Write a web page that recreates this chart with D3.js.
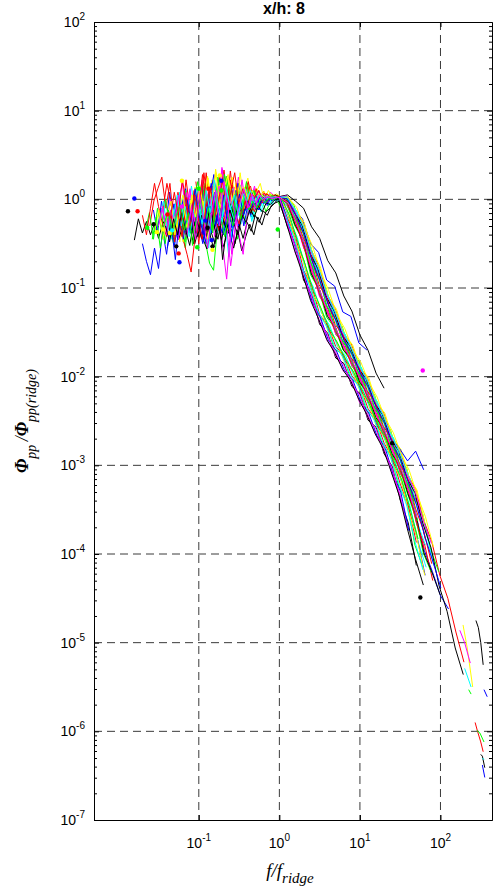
<!DOCTYPE html>
<html>
<head>
<meta charset="utf-8">
<script src="https://cdn.jsdelivr.net/npm/d3@7"></script>
<style>
  body { margin: 0; background: #fff; }
  svg { display: block; }
</style>
</head>
<body>
<svg id="chart" width="499" height="894"></svg>
<script>
// ---- axis ranges and ticks ----
const xDomain = [0.005, 436];
const yDomain = [1e-7, 1e2];
const xTickExp = [-1, 0, 1, 2];
const yTickExp = [-7, -6, -5, -4, -3, -2, -1, 0, 1, 2];

// ---- frequency grids, log10(f) ----
// fine grid below the ridge frequency (each low-band series ends at 10^0)
const fineGrid = [-1.80,-1.75,-1.70,-1.65,-1.60,-1.55,-1.50,-1.45,-1.40,-1.35,-1.30,-1.25,-1.20,-1.15,-1.10,-1.05,-1.00,-0.95,-0.90,-0.85,-0.80,-0.75,-0.70,-0.65,-0.60,-0.55,-0.50,-0.45,-0.40,-0.35,-0.30,-0.25,-0.20,-0.15,-0.10,-0.05,0.00];
// coarse grid above the ridge frequency (each roll-off series starts at 10^0.1)
const coarseGrid = [0.10,0.20,0.30,0.40,0.50,0.60,0.70,0.80,0.90,1.00,1.10,1.20,1.30,1.40,1.50,1.60,1.70,1.80,1.90,2.00,2.10,2.20,2.30];

// ---- one entry per spectrum ----
const seriesColor = ["b","r","g","c","m","y","k","b","r","g","c","m","y","k","b","r","g","c","m","y","k","b","r","g","c","m","y","k",
                     "b","r","g","c","m","y","k","b","r","g","c","m"];
const ridgeScale = [1.00,1.02,1.04,0.98,1.02,0.97,1.00,1.03,0.99,1.05,0.95,1.01,0.98,1.00,1.02,0.97,1.03,0.96,1.01,0.99,1.04,0.98,1.00,1.02,0.97,1.03,0.99,1.01,
                    0.98,1.02,0.96,1.04,1.00,0.97,1.03,0.99,1.01,0.95,1.02,0.98];

// log10(Phi_pp / Phi_pp(ridge)) below the ridge, aligned to the end of fineGrid
const spectraLow = [
  [-0.50,-0.70,-0.85,-0.55,-0.78,-0.35,-0.62,-0.25,-0.52,-0.15,-0.45,-0.10,-0.38,0.05,-0.30,-0.50,-0.08,-0.35,0.02,-0.28,-0.05,-0.40,0.00,-0.22,0.05,-0.18,-0.02,-0.20,-0.05,-0.12,0.03,-0.07,0.03,-0.02,0.02],
  [-0.30,-0.02,0.12,0.25,-0.10,0.18,-0.28,0.08,-0.20,0.22,-0.12,-0.38,0.10,-0.18,0.30,-0.10,0.22,-0.25,0.12,-0.15,0.32,-0.05,0.15,-0.20,0.08,0.15,-0.06,0.10,-0.02,0.07,0.02,0.05,0.03],
  [-0.35,-0.10,-0.50,-0.15,-0.42,0.02,-0.30,-0.55,-0.10,-0.38,0.05,-0.28,-0.48,-0.72,-0.80,-0.30,-0.05,-0.35,0.02,-0.25,-0.45,-0.08,-0.28,0.00,-0.20,-0.08,0.00,-0.14,-0.04,0.01,-0.03],
  [-0.25,-0.45,-0.05,-0.35,0.05,-0.25,0.15,-0.18,-0.40,0.05,-0.22,0.18,-0.12,-0.32,0.12,-0.15,-0.42,-0.05,0.10,-0.18,-0.02,-0.25,0.06,-0.10,0.00,0.06,-0.06,0.03,0.01],
  [-0.25,0.02,-0.38,-0.10,0.12,-0.30,-0.05,0.22,-0.20,0.05,-0.32,0.10,0.34,-0.12,0.20,-0.08,0.25,-0.15,0.10,-0.02,0.15,-0.06,0.08,0.00,0.08,0.03,0.02],
  [-0.40,-0.15,-0.48,-0.10,-0.32,0.05,-0.28,-0.05,0.15,-0.22,0.22,-0.12,-0.28,0.08,-0.15,0.25,-0.08,0.30,-0.05,0.14,-0.15,0.08,0.18,-0.02,0.10,0.03,0.06,0.03],
  [-0.46,-0.22,-0.38,-0.25,-0.40,-0.27,-0.44,-0.28,-0.20,-0.38,-0.26,-0.45,-0.30,-0.42,-0.22,-0.50,-0.32,-0.44,-0.56,-0.36,-0.50,-0.30,-0.54,-0.40,-0.33,-0.50,-0.28,-0.44,-0.26,-0.36,-0.18,-0.26,-0.13,-0.18,-0.07,-0.04,-0.02],
  [-0.12,-0.38,-0.02,-0.32,0.08,-0.25,-0.45,-0.08,0.12,-0.22,0.00,-0.35,0.18,-0.18,0.02,0.28,-0.15,0.10,-0.30,0.12,-0.08,0.18,-0.14,0.05,-0.08,0.08,0.00,0.05,-0.02,0.04,0.04,0.03],
  [-0.12,0.18,-0.05,-0.32,-0.08,-0.45,-0.62,-0.82,-0.42,-0.15,0.12,-0.20,0.15,-0.10,0.25,-0.08,-0.28,0.10,-0.15,0.12,-0.05,0.18,-0.08,0.06,-0.03,0.09,0.01,0.04,0.02,0.03],
  [-0.28,-0.48,-0.10,-0.38,0.02,-0.25,0.18,-0.15,-0.35,0.08,-0.20,0.22,-0.05,-0.25,0.10,-0.14,0.12,-0.08,0.04,-0.10,0.05,-0.03,0.03,0.00,0.02],
  [-0.10,-0.40,0.02,-0.28,-0.55,-0.12,-0.38,0.08,-0.22,-0.65,-0.28,-0.02,-0.28,0.08,-0.12,-0.22,0.00,-0.14,0.02,-0.07,0.02,-0.02,0.01],
  [-0.02,0.18,-0.20,0.10,-0.32,-0.05,0.20,-0.25,0.00,-0.42,-0.10,-0.52,-0.90,-0.32,-0.05,0.12,-0.18,0.05,-0.10,0.12,-0.05,0.06,-0.02,0.04,0.01,0.02],
  [-0.25,0.00,-0.40,0.15,-0.15,0.26,-0.10,0.34,0.05,-0.15,0.24,-0.08,0.16,-0.18,0.08,0.24,-0.04,0.12,0.02,0.09,0.01,0.05,0.04,0.03],
  [-0.30,-0.05,-0.38,0.00,-0.25,0.06,-0.20,-0.35,-0.05,-0.22,0.04,-0.15,-0.04,0.05,-0.08,0.03,-0.03,0.05,0.02,0.05,0.03],
  [-0.32,-0.05,-0.45,-0.20,0.02,-0.38,-0.12,0.10,-0.28,-0.50,-0.10,0.08,-0.22,-0.38,-0.05,-0.25,0.05,-0.30,-0.08,0.02,-0.18,-0.04,-0.12,0.01,-0.05,0.02,-0.01,0.02],
  [0.20,-0.15,0.30,-0.08,0.15,-0.25,0.08,0.33,-0.10,0.16,-0.18,0.10,-0.06,0.20,-0.02,0.12,-0.05,0.07,0.01,0.05,0.03,0.02],
  [-0.35,-0.15,-0.45,-0.10,-0.35,0.00,-0.30,-0.50,-0.08,-0.38,0.10,-0.22,-0.02,0.20,-0.15,-0.32,0.12,-0.15,0.25,0.00,-0.20,0.14,-0.10,0.08,-0.22,0.04,-0.08,0.10,-0.03,0.04,0.00,0.04,0.02,0.03],
  [-0.18,0.10,-0.12,0.20,-0.05,-0.28,0.12,-0.15,0.16,-0.08,0.08,-0.15,0.03,0.07,-0.04,0.05,0.01,0.03,0.02],
  [-0.08,-0.35,0.00,-0.25,-0.45,-0.10,0.08,-0.28,-0.02,-0.38,-0.18,0.10,-0.22,-0.02,0.15,-0.15,-0.30,-0.75,-0.40,-0.05,0.08,-0.12,0.04,-0.06,0.05,-0.02,0.03,0.00,0.02,0.02],
  [-0.40,-0.18,-0.48,-0.12,-0.36,0.02,-0.30,-0.08,-0.45,-0.02,-0.25,0.08,-0.18,-0.35,0.00,-0.18,0.10,-0.12,0.00,-0.15,0.06,-0.06,0.03,-0.02,0.03,0.01,0.02],
  [-0.28,-0.50,-0.25,-0.44,-0.20,-0.38,-0.55,-0.28,-0.46,-0.22,-0.40,-0.55,-0.35,-0.58,-0.42,-0.28,-0.40,-0.20,-0.29,-0.14,-0.10,-0.05,0.00],
  [-0.25,0.10,-0.15,-0.38,0.00,0.16,-0.20,0.02,-0.32,0.10,-0.14,0.05,-0.10,0.08,-0.06,0.04,-0.02,0.04,0.02,0.03,0.02],
  [-0.18,-0.40,-0.10,0.18,-0.08,-0.28,-0.42,-0.12,-0.48,-0.05,-0.30,0.02,-0.35,-0.10,-0.50,-0.02,-0.25,0.12,-0.20,-0.35,0.00,-0.22,0.14,-0.12,-0.28,-0.02,0.05,-0.15,-0.03,-0.09,0.02,-0.03,0.03,0.01,0.02],
  [-0.15,0.18,-0.08,0.26,0.00,-0.20,0.12,-0.10,0.20,-0.04,0.08,-0.06,0.05,0.02,0.05,0.03,0.02],
  [-0.25,-0.02,-0.38,-0.08,-0.30,0.08,-0.22,-0.42,-0.05,-0.28,0.02,-0.36,-0.10,0.10,-0.25,-0.05,-0.35,-0.12,0.05,-0.25,-0.08,0.05,-0.15,-0.02,-0.10,0.02,-0.04,0.02,0.00,0.02,0.01],
  [-0.15,0.12,-0.22,0.05,-0.12,0.36,0.05,-0.20,0.14,-0.08,0.22,-0.10,0.08,-0.03,0.09,0.02,0.04,0.01,0.03,0.02],
  [-0.35,-0.12,-0.45,-0.18,-0.02,-0.40,-0.12,0.05,-0.32,-0.08,0.14,-0.22,-0.02,-0.38,0.08,-0.15,0.16,-0.08,-0.25,0.10,-0.10,0.18,-0.04,0.08,-0.12,0.03,0.06,-0.02,0.04,0.02,0.03,0.02],
  [-0.20,-0.40,-0.05,-0.30,0.00,-0.25,-0.42,-0.08,-0.32,-0.12,-0.68,-0.32,-0.05,-0.25,0.00,-0.20,-0.06,-0.16,0.01,-0.07,0.02,-0.02,0.03,0.02,0.03],
  [-0.55,-0.30,-0.68,-0.22,-0.45,-0.10,-0.35,0.05,-0.28,-0.48,-0.15,0.08,-0.30,-0.05,-0.40,-0.12,0.10,-0.22,-0.02,-0.30,-0.06,0.08,-0.12,0.02,-0.05,0.04,-0.02,0.02,0.02],
  [-0.15,-0.42,-0.08,-0.30,0.10,-0.20,-0.45,-0.05,0.15,-0.25,0.05,-0.32,-0.10,0.22,-0.12,0.05,-0.20,0.10,-0.05,-0.14,0.05,-0.04,0.05,0.00,0.03,0.02],
  [0.05,-0.25,0.15,-0.12,-0.35,0.08,-0.18,0.28,0.02,-0.20,0.10,-0.12,0.06,-0.05,0.10,0.00,0.06,-0.02,0.04,0.02,0.03,0.02],
  [-0.20,0.05,-0.30,-0.08,-0.42,-0.15,0.12,-0.20,0.00,-0.35,0.08,-0.12,-0.28,0.15,-0.06,-0.22,0.05,-0.10,0.12,-0.04,0.04,-0.06,0.05,0.00,0.03,0.01,0.02],
  [-0.30,-0.08,-0.40,-0.12,-0.28,0.05,-0.20,-0.42,-0.05,-0.25,0.10,-0.15,-0.35,0.02,-0.18,0.15,-0.10,-0.28,0.05,-0.16,-0.40,-0.62,-0.20,0.02,-0.10,0.05,-0.03,0.03,0.00,0.02,0.02],
  [-0.10,-0.32,0.05,-0.20,0.15,-0.12,0.24,-0.05,0.30,-0.10,0.12,0.28,-0.02,0.18,-0.08,0.14,0.00,0.10,-0.03,0.07,0.02,0.05,0.03,0.03,0.02],
  [-0.30,-0.48,-0.22,-0.40,-0.15,-0.35,-0.52,-0.25,-0.42,-0.18,-0.36,-0.08,-0.30,-0.45,-0.20,-0.32,-0.12,-0.28,-0.40,-0.18,-0.26,-0.10,-0.20,-0.08,-0.14,-0.04,-0.06,-0.01,0.01],
  [0.00,-0.25,0.12,-0.18,-0.40,-0.08,0.18,-0.15,-0.30,0.05,-0.22,-0.48,-0.12,0.06,-0.18,-0.02,-0.10,0.05,-0.06,0.02,-0.02,0.03,0.02,0.03],
  [-0.22,0.08,-0.18,0.22,-0.05,-0.30,0.05,-0.15,0.28,-0.08,0.12,-0.22,0.00,0.20,-0.12,0.08,0.30,-0.05,0.12,-0.10,0.08,0.02,0.10,-0.02,0.06,0.02,0.04,0.03],
  [-0.45,-0.20,-0.55,-0.28,-0.12,-0.40,-0.18,-0.05,-0.35,-0.15,-0.52,-0.22,0.00,-0.30,-0.10,-0.38,0.05,-0.20,-0.42,-0.15,-0.30,-0.05,-0.22,0.05,-0.12,-0.02,-0.10,0.02,-0.04,0.01,-0.01,0.02,0.02],
  [-0.05,-0.28,0.10,-0.15,0.22,-0.08,-0.25,0.12,-0.12,0.05,-0.18,0.08,-0.02,0.10,-0.04,0.05,0.00,0.04,0.02,0.03,0.02],
  [-0.35,-0.10,-0.45,0.05,-0.22,-0.55,-0.15,0.10,-0.30,0.20,-0.05,-0.62,-0.25,-0.05,0.12,-0.10,0.06,-0.04,0.05,0.00,0.03,0.01,0.02,0.02]
];

// log10(Phi_pp / Phi_pp(ridge)) above the ridge, aligned to the start of coarseGrid
const spectraHigh = [
  [-0.03,-0.27,-0.50,-0.84,-1.03,-1.31,-1.46,-1.69,-1.82,-2.05,-2.20,-2.45,-2.60,-2.86,-3.02,-3.31,-3.58,-3.96,-4.20,-4.47,-4.62],
  [0.04,-0.11,-0.26,-0.56,-0.76,-1.07,-1.23,-1.50,-1.63,-1.88,-2.01,-2.27,-2.40,-2.67,-2.82,-3.10,-3.27,-3.62,-3.86,-4.24,-4.50,-4.88,-5.22],
  [-0.20,-0.42,-0.79,-0.97,-1.31,-1.40,-1.69,-1.74,-2.02,-2.08,-2.39,-2.47,-2.78,-2.89,-3.24,-3.42,-3.90,-4.15],
  [-0.08,-0.23,-0.54,-0.77,-1.10,-1.23,-1.53,-1.61,-1.89,-1.97,-2.27,-2.37,-2.67,-2.78,-3.09,-3.23,-3.66],
  [0.02,-0.21,-0.36,-0.72,-0.89,-1.21,-1.34,-1.62,-1.72,-1.99,-2.09,-2.38,-2.49,-2.79,-2.91,-3.23],
  [-0.04,-0.13,-0.44,-0.62,-0.97,-1.11,-1.42,-1.52,-1.80,-1.89,-2.17,-2.28,-2.57,-2.69,-2.90],
  [-0.31,-0.51,-0.91,-1.07,-1.41,-1.51,-1.79,-1.85,-2.11,-2.19,-2.49,-2.57,-2.87,-3.01,-3.39,-3.65,-4.13],
  [0.03,-0.12,-0.22,-0.50,-0.60,-0.91,-0.98,-1.27,-1.32,-1.62,-1.70],
  [-0.06,-0.22,-0.55,-0.75,-1.10,-1.24,-1.53,-1.61,-1.89,-1.97,-2.28,-2.37,-2.68,-2.78,-3.10,-3.23,-3.66,-3.90,-4.30],
  [0.00,-0.06,-0.35,-0.50,-0.85,-1.00,-1.33,-1.43,-1.73,-1.81,-2.10,-2.20,-2.50,-2.60,-2.91,-3.03,-3.37,-3.55,-3.95,-4.20],
  [-0.22,-0.43,-0.80,-0.99,-1.28,-1.42,-1.66,-1.76,-1.99,-2.10,-2.36,-2.49,-2.75,-2.91,-3.21,-3.46,-3.86,-4.15],
  [-0.08,-0.23,-0.53,-0.76,-1.09,-1.25,-1.51,-1.63,-1.87,-1.99,-2.25,-2.39,-2.65,-2.80,-3.07,-3.25,-3.63,-3.93],
  [0.03,-0.14,-0.26,-0.60,-0.76,-1.10,-1.24,-1.53,-1.64,-1.91,-2.01,-2.30,-2.41,-2.70,-2.82,-3.13,-3.28,-3.66],
  [0.05,-0.02,-0.10,-0.31,-0.44,-0.69,-0.83,-1.09,-1.26,-1.53,-1.70,-1.96,-2.13],
  [0.01,-0.17,-0.32,-0.64,-0.83,-1.12,-1.29,-1.54,-1.69,-1.92,-2.07,-2.31,-2.45,-2.70,-2.81,-2.95,-2.84,-3.05],
  [0.01,-0.20,-0.38,-0.72,-0.89,-1.21,-1.34,-1.62,-1.72,-1.99,-2.09,-2.38,-2.49,-2.79,-2.91,-3.23,-3.42,-3.84],
  [-0.04,-0.29,-0.46,-0.85,-1.01,-1.33,-1.45,-1.69,-1.82,-2.06,-2.18,-2.47,-2.59,-2.87,-3.02,-3.31,-3.58,-3.99,-4.21],
  [-0.04,-0.13,-0.44,-0.64,-0.98,-1.12,-1.43,-1.52,-1.81,-1.89,-2.18,-2.28,-2.58,-2.69,-3.00,-3.14,-3.51,-3.74,-4.13],
  [-0.25,-0.60,-0.81,-1.15,-1.31,-1.60,-1.72,-1.94,-2.03,-2.29,-2.42,-2.66,-2.80,-3.09,-3.32,-3.72],
  [-0.02,-0.28,-0.48,-0.83,-1.03,-1.31,-1.46,-1.70,-1.81,-2.07,-2.18,-2.46,-2.60,-2.86,-3.00,-3.33],
  [0.03,-0.15,-0.29,-0.61,-0.79,-1.10,-1.26,-1.54,-1.66,-1.91,-2.03,-2.30,-2.43,-2.70,-2.84,-3.14,-3.31,-3.66,-3.93,-4.36,-4.65,-5.06,-5.36],
  [-0.16,-0.50,-0.70,-1.07,-1.22,-1.48,-1.60,-1.82,-1.93,-2.16,-2.30,-2.55,-2.69,-2.97,-3.15,-3.51,-3.81,-4.24],
  [-0.21,-0.41,-0.80,-0.97,-1.30,-1.42,-1.66,-1.76,-1.99,-2.10,-2.36,-2.49,-2.75,-2.91,-3.21,-3.45,-3.87],
  [0.02,-0.21,-0.36,-0.71,-0.88,-1.21,-1.33,-1.62,-1.71,-1.99,-2.08,-2.38,-2.48,-2.79,-2.90,-3.23,-3.42],
  [-0.07,-0.21,-0.55,-0.75,-1.10,-1.23,-1.53,-1.61,-1.89,-1.97,-2.27,-2.37,-2.67,-2.78,-3.09,-3.23,-3.65,-3.90],
  [0.04,-0.13,-0.27,-0.58,-0.77,-1.08,-1.25,-1.51,-1.65,-1.89,-2.02,-2.28,-2.42,-2.68,-2.83,-3.11,-3.29,-3.63,-3.88],
  [-0.15,-0.49,-0.71,-1.06,-1.21,-1.49,-1.59,-1.83,-1.92,-2.17,-2.29,-2.56,-2.68,-2.98,-3.14,-3.52,-3.80,-4.24],
  [-0.02,-0.29,-0.46,-0.84,-1.01,-1.32,-1.44,-1.70,-1.80,-2.06,-2.18,-2.46,-2.58,-2.87,-3.00,-3.32,-3.56,-3.99,-4.21,-4.46],
  [-0.26,-0.58,-0.83,-1.16,-1.33,-1.59,-1.71,-1.93,-2.03,-2.28,-2.41,-2.66,-2.79,-3.09,-3.31,-3.74],
  [-0.02,-0.15,-0.42,-0.63,-0.96,-1.12,-1.41,-1.53,-1.79,-1.90,-2.16,-2.29,-2.56,-2.70,-2.98,-3.14,-3.49,-3.74,-4.11],
  [-0.06,-0.25,-0.52,-0.78,-1.08,-1.25,-1.51,-1.63,-1.87,-1.99,-2.25,-2.39,-2.65,-2.80,-3.07,-3.25,-3.63],
  [-0.19,-0.44,-0.77,-1.00,-1.27,-1.43,-1.65,-1.77,-1.98,-2.11,-2.35,-2.50,-2.74,-2.92,-3.20,-3.46,-3.86,-4.18],
  [-0.29,-0.53,-0.88,-1.09,-1.39,-1.53,-1.77,-1.87,-2.09,-2.21,-2.47,-2.59,-2.85,-3.03,-3.37],
  [0.02,-0.09,-0.32,-0.53,-0.82,-1.03,-1.30,-1.46,-1.70,-1.84,-2.07,-2.23,-2.47,-2.63,-2.88,-3.06,-3.34,-3.58,-3.92],
  [-0.27,-0.57,-0.84,-1.14,-1.35,-1.58,-1.73,-1.92,-2.05,-2.26,-2.43,-2.64,-2.81,-3.07,-3.34,-3.71,-4.05,-4.35],
  [0.00,-0.18,-0.39,-0.69,-0.92,-1.18,-1.37,-1.59,-1.75,-1.96,-2.12,-2.35,-2.52,-2.76,-2.94,-3.20,-3.45,-3.80,-4.08,-4.38],
  [-0.05,-0.24,-0.51,-0.79,-1.06,-1.27,-1.49,-1.65,-1.85,-2.01,-2.23,-2.41,-2.63,-2.82,-3.05,-3.27,-3.61,-3.94],
  [-0.17,-0.46,-0.74,-1.03,-1.24,-1.46,-1.62,-1.80,-1.95,-2.14,-2.32,-2.53,-2.71,-2.95,-3.17,-3.49,-3.83],
  [0.03,-0.11,-0.29,-0.57,-0.79,-1.07,-1.27,-1.50,-1.67,-1.88,-2.04,-2.27,-2.44,-2.67,-2.85,-3.10],
  [-0.04,-0.26,-0.49,-0.82,-1.04,-1.30,-1.47,-1.68,-1.83,-2.04,-2.21,-2.44,-2.61,-2.85,-3.03,-3.30,-3.59]
];

// isolated pieces of spectra at the highest frequencies: [log10 f, log10 level]
const tailColor = ["r","g","k","b","c","k","y","m","c","g","b"];
const tailSegments = [
  [[2.43,-5.90],[2.46,-6.00],[2.50,-6.12],[2.53,-6.23]],
  [[2.45,-5.99],[2.49,-6.02],[2.54,-6.12]],
  [[2.50,-6.26],[2.52,-6.28],[2.55,-6.41]],
  [[2.52,-6.38],[2.55,-6.52]],
  [[2.52,-6.30],[2.54,-6.32]],
  [[2.44,-4.75],[2.47,-4.83],[2.50,-5.00],[2.53,-5.25]],
  [[2.28,-4.80],[2.33,-5.05],[2.40,-5.50]],
  [[2.24,-4.86],[2.30,-5.00],[2.37,-5.23]],
  [[2.30,-5.29],[2.38,-5.50]],
  [[2.35,-5.53],[2.38,-5.58]],
  [[2.54,-5.53],[2.58,-5.61]]
];

// single-sample points drawn as dots
const dotLogF = [-1.80,-1.88,-1.76,-1.64,-1.56,-1.39,-1.52,-1.44,-1.36,-1.21,-1.21,-1.28,-1.25,-1.24,-1.02,-0.89,-0.92,-1.00,-0.74,-0.72,-0.72,-0.88,-0.83,-0.84,-0.83,-1.33,-0.02,1.75,1.78,1.40];
const dotLogV = [0.01,-0.135,-0.135,-0.32,-0.28,-0.17,-0.37,-0.34,-0.38,-0.08,0.21,-0.53,-0.61,-0.71,-0.54,-0.32,-0.24,0.12,0.27,0.21,0.10,0.12,-0.53,-0.46,-0.57,-0.35,-0.34,-4.49,-1.93,-2.75];
const dotColor = ["b","k","r","g","k","r","y","y","y","m","y","k","r","b","g","k","b","g","y","b","g","r","k","b","y","c","g","k","m","k"];

const palette = { b: "#0000ff", r: "#ff0000", g: "#00ff00", c: "#00ffff", m: "#ff00ff", y: "#ffff00", k: "#000000" };

// ---- layout ----
const plot = { left: 94, right: 492, top: 22, bottom: 820 };

const svg = d3.select("#chart");
const x = d3.scaleLog().domain(xDomain).range([plot.left, plot.right]);
const y = d3.scaleLog().domain(yDomain).range([plot.bottom, plot.top]);

svg.append("defs").append("clipPath").attr("id", "plotClip")
  .append("rect")
  .attr("x", plot.left).attr("y", plot.top)
  .attr("width", plot.right - plot.left).attr("height", plot.bottom - plot.top);

// ---- dashed grid ----
const grid = svg.append("g").attr("stroke", "#3a3a3a").attr("stroke-width", 1)
  .attr("stroke-dasharray", "8,5").attr("fill", "none");
xTickExp.forEach(e => {
  grid.append("line")
    .attr("x1", x(Math.pow(10, e))).attr("x2", x(Math.pow(10, e)))
    .attr("y1", plot.top).attr("y2", plot.bottom);
});
yTickExp.filter(e => e > -7 && e < 2).forEach(e => {
  grid.append("line")
    .attr("x1", plot.left).attr("x2", plot.right)
    .attr("y1", y(Math.pow(10, e))).attr("y2", y(Math.pow(10, e)));
});

// ---- spectra ----
const line = d3.line().x(d => x(d[0])).y(d => y(d[1]));
const spectraG = svg.append("g").attr("clip-path", "url(#plotClip)")
  .attr("fill", "none").attr("stroke-width", 1).attr("stroke-linejoin", "round");

spectraLow.forEach((low, k) => {
  const high = spectraHigh[k];
  const offset = fineGrid.length - low.length;
  const pts = [];
  low.forEach((v, i) => pts.push([Math.pow(10, fineGrid[offset + i]) / ridgeScale[k], Math.pow(10, v)]));
  high.forEach((v, i) => pts.push([Math.pow(10, coarseGrid[i]) / ridgeScale[k], Math.pow(10, v)]));
  spectraG.append("path")
    .attr("stroke", palette[seriesColor[k]])
    .attr("d", line(pts));
});

tailSegments.forEach((seg, k) => {
  spectraG.append("path")
    .attr("stroke", palette[tailColor[k]])
    .attr("d", line(seg.map(p => [Math.pow(10, p[0]), Math.pow(10, p[1])])));
});

dotLogF.forEach((lf, i) => {
  spectraG.append("circle")
    .attr("cx", x(Math.pow(10, lf)))
    .attr("cy", y(Math.pow(10, dotLogV[i])))
    .attr("r", 2.2)
    .attr("fill", palette[dotColor[i]])
    .attr("stroke", "none");
});

// ---- axes (ticks point inward) ----
const majorX = xTickExp.map(e => Math.pow(10, e));
const majorY = yTickExp.map(e => Math.pow(10, e));
const minorY = [];
for (let e = -7; e < 2; e++) for (let m = 2; m <= 9; m++) minorY.push(m * Math.pow(10, e));

function styleAxis(g) {
  g.selectAll("path.domain").attr("stroke", "#000").attr("stroke-width", 1);
  g.selectAll(".tick line").attr("stroke", "#000").attr("stroke-width", 1);
  g.selectAll(".tick text").remove();
}

svg.append("g").attr("transform", `translate(0,${plot.bottom})`)
  .call(d3.axisBottom(x).tickValues(majorX).tickSize(-5).tickSizeOuter(0).tickFormat(""))
  .call(styleAxis);
svg.append("g").attr("transform", `translate(0,${plot.top})`)
  .call(d3.axisTop(x).tickValues(majorX).tickSize(-5).tickSizeOuter(0).tickFormat(""))
  .call(styleAxis);
svg.append("g").attr("transform", `translate(${plot.left},0)`)
  .call(d3.axisLeft(y).tickValues(majorY).tickSize(-5).tickSizeOuter(0).tickFormat(""))
  .call(styleAxis);
svg.append("g").attr("transform", `translate(${plot.left},0)`)
  .call(d3.axisLeft(y).tickValues(minorY).tickSize(-3).tickSizeOuter(0).tickFormat(""))
  .call(styleAxis);
svg.append("g").attr("transform", `translate(${plot.right},0)`)
  .call(d3.axisRight(y).tickValues(majorY).tickSize(-5).tickSizeOuter(0).tickFormat(""))
  .call(styleAxis);
svg.append("g").attr("transform", `translate(${plot.right},0)`)
  .call(d3.axisRight(y).tickValues(minorY).tickSize(-3).tickSizeOuter(0).tickFormat(""))
  .call(styleAxis);

// ---- tick labels: 10 with superscript exponent ----
const labelFont = "Arial, 'Liberation Sans', Helvetica, sans-serif";
function powerLabel(sel, e) {
  sel.append("tspan").text("10");
  sel.append("tspan").attr("font-size", 10).attr("dy", -7).text(String(e));
}
xTickExp.forEach(e => {
  const t = svg.append("text")
    .attr("x", x(Math.pow(10, e))).attr("y", 848)
    .attr("text-anchor", "middle")
    .attr("font-family", labelFont).attr("font-size", 14).attr("fill", "#000");
  powerLabel(t, e);
});
yTickExp.forEach(e => {
  const t = svg.append("text")
    .attr("x", plot.left - 9).attr("y", y(Math.pow(10, e)) + 5)
    .attr("text-anchor", "end")
    .attr("font-family", labelFont).attr("font-size", 14).attr("fill", "#000");
  powerLabel(t, e);
});

// ---- title ----
svg.append("text")
  .attr("x", 284).attr("y", 14)
  .attr("text-anchor", "middle")
  .attr("font-family", labelFont).attr("font-weight", "bold").attr("font-size", 16)
  .text("x/h: 8");

// ---- axis titles ----
const serif = "'Times New Roman', 'Liberation Serif', 'DejaVu Serif', serif";
const xl = svg.append("text")
  .attr("x", 290).attr("y", 877)
  .attr("text-anchor", "middle")
  .attr("font-family", serif).attr("font-style", "italic").attr("font-size", 19);
xl.append("tspan").text("f/f");
xl.append("tspan").attr("font-size", 15).attr("dy", 6).text("ridge");

const yl = svg.append("text")
  .attr("transform", "translate(28,421) rotate(-90)")
  .attr("text-anchor", "middle")
  .attr("font-family", serif).attr("font-style", "italic").attr("font-size", 18);
yl.append("tspan").attr("font-weight", "bold").text("\u03A6");
yl.append("tspan").attr("font-size", 14).attr("dy", 8).text("pp");
yl.append("tspan").attr("dy", -8).text("\u2009/");
yl.append("tspan").attr("font-weight", "bold").text("\u03A6");
yl.append("tspan").attr("font-size", 14).attr("dy", 8).text("pp(ridge)");
</script>
</body>
</html>
